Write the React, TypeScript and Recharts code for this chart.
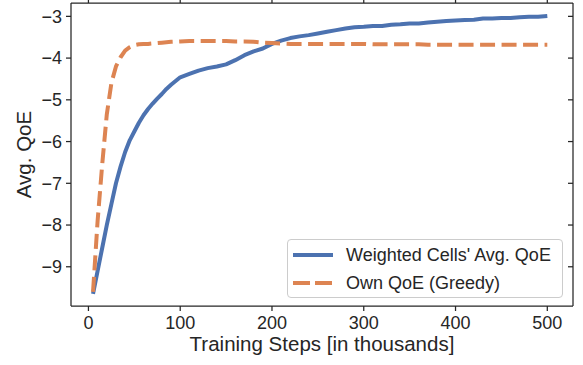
import React from 'react';
import { LineChart, Line, XAxis, YAxis, Legend } from 'recharts';

const steps = [5, 10, 15, 20, 25, 30, 35, 40, 45, 50, 55, 60, 65, 70, 75, 80, 85, 90, 100, 110, 120, 130, 140, 150, 160, 170, 180, 190, 200, 210, 220, 230, 240, 250, 260, 270, 280, 290, 300, 310, 320, 330, 340, 350, 360, 370, 380, 390, 400, 410, 420, 430, 440, 450, 460, 470, 480, 490, 500];

const weightedQoE = [-9.65, -9.1, -8.55, -8.0, -7.5, -7.0, -6.6, -6.25, -5.97, -5.76, -5.55, -5.37, -5.22, -5.09, -4.97, -4.86, -4.74, -4.64, -4.46, -4.38, -4.3, -4.24, -4.2, -4.15, -4.05, -3.93, -3.84, -3.77, -3.66, -3.58, -3.52, -3.48, -3.45, -3.41, -3.37, -3.33, -3.29, -3.26, -3.25, -3.23, -3.23, -3.2, -3.19, -3.17, -3.17, -3.15, -3.13, -3.11, -3.1, -3.09, -3.08, -3.05, -3.05, -3.04, -3.04, -3.02, -3.01, -3.01, -2.99];

const ownQoE = [-9.6, -7.9, -6.55, -5.35, -4.6, -4.2, -3.98, -3.82, -3.74, -3.69, -3.67, -3.66, -3.66, -3.65, -3.64, -3.63, -3.62, -3.61, -3.6, -3.59, -3.59, -3.59, -3.59, -3.59, -3.6, -3.6, -3.61, -3.63, -3.64, -3.65, -3.66, -3.66, -3.66, -3.66, -3.66, -3.66, -3.66, -3.66, -3.66, -3.67, -3.67, -3.67, -3.67, -3.67, -3.67, -3.68, -3.68, -3.68, -3.68, -3.68, -3.68, -3.68, -3.68, -3.68, -3.68, -3.68, -3.68, -3.68, -3.68];

const xTicks = [0, 100, 200, 300, 400, 500];
const yTicks = [-9, -8, -7, -6, -5, -4, -3];

const seriesNames = ["Weighted Cells' Avg. QoE", 'Own QoE (Greedy)'];
const BLUE = '#4c72b0';
const ORANGE = '#dd8452';
const INK = '#262626';
const FONT = '"Liberation Sans", Arial, sans-serif';
const X_DOMAIN: [number, number] = [-19, 528];
const Y_DOMAIN: [number, number] = [-9.94, -2.68];

const data = steps.map((s, i) => ({ step: s, weighted: weightedQoE[i], own: ownQoE[i] }));

const fmt = (v: number) => (v < 0 ? '\u2212' + Math.abs(v) : String(v));

const renderLegend = () => (
  <div
    style={{
      width: 276,
      height: 59,
      boxSizing: 'border-box',
      border: '1px solid #cccccc',
      borderRadius: 4,
      background: 'rgba(255,255,255,0.8)',
      fontFamily: FONT,
      fontSize: 18,
      color: INK,
      position: 'relative',
    }}
  >
    {seriesNames.map((name, i) => (
      <div
        key={name}
        style={{ position: 'absolute', left: 0, top: i === 0 ? 3 : 31, height: 24, display: 'flex', alignItems: 'center' }}
      >
        <svg width={52} height={24} style={{ display: 'block' }}>
          <line
            x1={5}
            x2={45}
            y1={12}
            y2={12}
            stroke={i === 0 ? BLUE : ORANGE}
            strokeWidth={4}
            strokeDasharray={i === 0 ? undefined : '17 5'}
          />
        </svg>
        <span style={{ marginLeft: 6, whiteSpace: 'nowrap' }}>{name}</span>
      </div>
    ))}
  </div>
);

export default function App() {
  return (
    <div style={{ position: 'absolute', left: 0, top: 0, width: 583, height: 365, background: '#fff' }}>
      <LineChart width={583} height={365} data={data} margin={{ top: 2, right: 10, left: 0, bottom: 0 }}>
        <XAxis
          dataKey="step"
          type="number"
          domain={X_DOMAIN}
          ticks={xTicks}
          height={59}
          stroke={INK}
          strokeWidth={1.25}
          tickSize={5}
          tickMargin={5}
          tick={{ fill: INK, fontSize: 18, fontFamily: FONT }}
          label={{ value: 'Training Steps [in thousands]', position: 'insideBottom', offset: 14, fill: INK, fontSize: 20.5, fontFamily: FONT }}
        />
        <XAxis
          xAxisId="top"
          dataKey="step"
          type="number"
          orientation="top"
          domain={X_DOMAIN}
          ticks={xTicks}
          height={1}
          stroke={INK}
          strokeWidth={1.25}
          tickSize={4}
          tickFormatter={() => ''}
        />
        <YAxis
          type="number"
          domain={Y_DOMAIN}
          ticks={yTicks}
          width={71}
          stroke={INK}
          strokeWidth={1.25}
          tickSize={5}
          tickMargin={4}
          tickFormatter={fmt}
          tick={{ fill: INK, fontSize: 18, fontFamily: FONT }}
          label={{ value: 'Avg. QoE', angle: -90, position: 'insideLeft', offset: 24, fill: INK, fontSize: 20.5, fontFamily: FONT, style: { textAnchor: 'middle' } }}
        />
        <YAxis
          yAxisId="right"
          type="number"
          orientation="right"
          domain={Y_DOMAIN}
          ticks={yTicks}
          width={1}
          stroke={INK}
          strokeWidth={1.25}
          tickSize={5}
          mirror
          tickFormatter={() => ''}
        />
        <Legend layout="horizontal" verticalAlign="middle" align="center" wrapperStyle={{ left: 287, top: 239, width: 276, height: 59 }} content={renderLegend} />
        <Line
          xAxisId="top"
          yAxisId="right"
          type="linear"
          dataKey="own"
          stroke="none"
          strokeWidth={0}
          dot={false}
          legendType="none"
          isAnimationActive={false}
        />
        <Line
          type="linear"
          dataKey="weighted"
          name={seriesNames[0]}
          stroke={BLUE}
          strokeWidth={4}
          dot={false}
          strokeLinejoin="round"
          isAnimationActive={false}
        />
        <Line
          type="linear"
          dataKey="own"
          name={seriesNames[1]}
          stroke={ORANGE}
          strokeWidth={4}
          strokeDasharray="15 6.5"
          dot={false}
          strokeLinejoin="round"
          isAnimationActive={false}
        />
      </LineChart>
    </div>
  );
}
